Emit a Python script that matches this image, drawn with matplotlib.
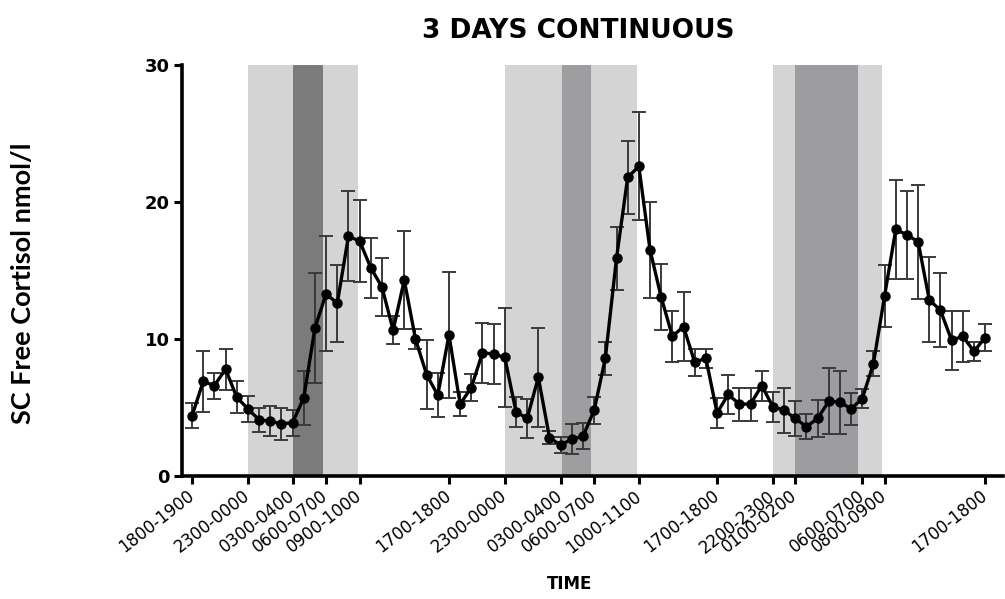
import numpy as np
import matplotlib
matplotlib.use("Agg")
import matplotlib.pyplot as plt

# Hourly mean subcutaneous free cortisol (nmol/l) and error, 72 consecutive hours
cortisol = [4.4, 6.9, 6.6, 7.8, 5.75, 4.9, 4.1, 4.0, 3.8, 3.9,
            5.7, 10.8, 13.3, 12.6, 17.5, 17.15, 15.2, 13.8, 10.65, 14.3,
            10.0, 7.4, 5.9, 10.3, 5.25, 6.45, 9.0, 8.9, 8.65, 4.7,
            4.2, 7.2, 2.8, 2.25, 2.7, 2.9, 4.8, 8.6, 15.9, 21.8,
            22.6, 16.5, 13.05, 10.2, 10.9, 8.3, 8.6, 4.6, 5.95, 5.25,
            5.25, 6.6, 5.05, 4.8, 4.2, 3.6, 4.2, 5.45, 5.4, 4.9,
            5.65, 8.2, 13.15, 18.0, 17.6, 17.1, 12.85, 12.1, 9.9, 10.2, 9.1, 10.1]
cortisol_err = [0.9, 2.2, 0.95, 1.5, 1.15, 0.95, 0.9, 1.1, 1.2, 0.95,
                2.0, 4.0, 4.2, 2.8, 3.3, 3.0, 2.2, 2.1, 1.0, 3.6,
                0.7, 2.5, 1.6, 4.6, 0.9, 1.0, 2.2, 2.2, 3.6, 1.1,
                1.4, 3.6, 0.5, 0.6, 1.1, 0.95, 1.0, 1.2, 2.3, 2.65,
                3.95, 3.5, 2.4, 1.85, 2.5, 1.0, 0.7, 1.1, 1.4, 1.2,
                1.2, 1.1, 1.1, 1.65, 1.25, 0.9, 1.35, 2.4, 2.3, 1.15,
                0.7, 0.9, 2.25, 3.6, 3.2, 4.15, 3.1, 2.7, 2.15, 1.85, 0.7, 1.0]

tick_positions = [0, 5, 9, 12, 15, 23, 28, 33, 36, 40, 47, 52, 54, 60, 62, 71]
tick_labels = ["1800-1900", "2300-0000", "0300-0400", "0600-0700", "0900-1000",
               "1700-1800", "2300-0000", "0300-0400", "0600-0700", "1000-1100",
               "1700-1800", "2200-2300", "0100-0200", "0600-0700", "0800-0900",
               "1700-1800"]

# Night periods (light band) and sleep periods (dark band), in hour index
night_spans = [(5, 14.9), (28, 39.8), (52, 61.8)]
sleep_spans = [(9, 11.7), (33.1, 35.7), (54, 59.6)]
sleep_colors = ["#7b7b7b", "#9e9ea1", "#9c9ca1"]

fig = plt.figure(figsize=(10.05, 5.99), dpi=100)
ax = fig.add_axes([182 / 1005, 123 / 599, 821 / 1005, 411 / 599])

for a, b in night_spans:
    ax.axvspan(a, b, color="#d4d4d4", lw=0, zorder=0)
for (a, b), c in zip(sleep_spans, sleep_colors):
    ax.axvspan(a, b, color=c, lw=0, zorder=0.5)

hours = np.arange(len(cortisol))
ax.errorbar(hours, cortisol, yerr=cortisol_err, fmt="none", ecolor="#3a3a3a",
            elinewidth=1.4, capsize=5, capthick=1.4, zorder=2)
ax.plot(hours, cortisol, color="black", lw=2.4, marker="o", ms=6.5, zorder=3)

ax.set_xlim(-0.9, 72.6)
ax.set_ylim(0, 30)
ax.set_yticks([0, 10, 20, 30])
ax.set_yticklabels(["0", "10", "20", "30"], fontsize=13, fontweight="bold",
                   family="DejaVu Sans")
ax.set_xticks(tick_positions)
ax.set_xticklabels(tick_labels, rotation=38, ha="right", va="center",
                   rotation_mode="anchor", fontsize=12, family="DejaVu Sans")
ax.tick_params(axis="both", direction="out", width=2.2, length=6, color="black")
ax.tick_params(axis="x", pad=7)
ax.tick_params(axis="y", pad=3)

for side in ("top", "right"):
    ax.spines[side].set_visible(False)
for side in ("left", "bottom"):
    ax.spines[side].set_linewidth(2.6)

fig.text(0.575, 0.948, "3 DAYS CONTINUOUS", ha="center", va="center",
         fontsize=19, fontweight="bold", family="DejaVu Sans")
fig.text(0.567, 0.025, "TIME", ha="center", va="center",
         fontsize=12, fontweight="bold", family="DejaVu Sans")
fig.text(0.023, 0.527, "SC Free Cortisol nmol/l", ha="center", va="center",
         rotation=90, fontsize=19.5, fontweight="bold", family="Lato")

fig.savefig("out.png", dpi=100)
